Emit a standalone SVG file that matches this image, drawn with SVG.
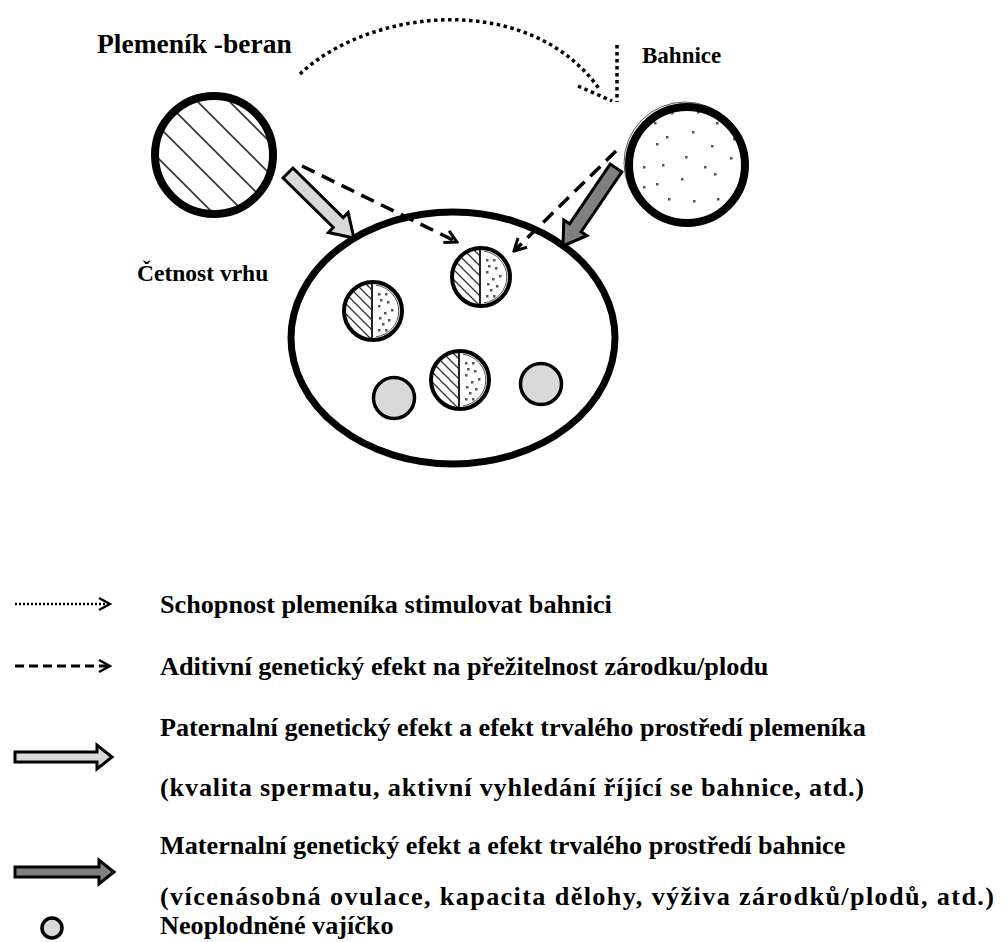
<svg xmlns="http://www.w3.org/2000/svg" xmlns:xlink="http://www.w3.org/1999/xlink" width="1007" height="942" viewBox="0 0 1007 942">
<style>
text{font-family:'Liberation Serif','Tinos','DejaVu Serif',serif;font-weight:700;fill:#000}
.leg{font-size:26.2px}
.emb{fill:none;stroke:#000;stroke-width:4}
.egg{fill:#d9d9d9;stroke:#000;stroke-width:3.5}
.blk{stroke:#000;stroke-width:3;stroke-linejoin:miter}
.light{fill:#d9d9d9}
.dark{fill:#808080}
.dash{fill:none;stroke:#000;stroke-width:3.5;stroke-dasharray:14 8}
.dot{fill:none;stroke:#000;stroke-width:3.5;stroke-dasharray:3.5 3.5}
.dp{fill:#555}
</style>
<defs>
  <pattern id="hatchBig" patternUnits="userSpaceOnUse" width="32" height="32">
    <path d="M0,0 L32,32 M-3,29 L3,35 M29,-3 L35,3" stroke="#333" stroke-width="1.6" fill="none"/>
  </pattern>
  <pattern id="hatchSmall" patternUnits="userSpaceOnUse" width="10" height="10">
    <path d="M0,0 L10,10 M-2,8 L2,12 M8,-2 L12,2" stroke="#333" stroke-width="1.3" fill="none"/>
  </pattern>
  <clipPath id="embClip"><circle cx="0" cy="0" r="28"/></clipPath>
  <marker id="chev" markerUnits="userSpaceOnUse" viewBox="0 0 16 16" markerWidth="16" markerHeight="16" refX="14" refY="8" orient="auto">
    <path d="M2,1.5 L14,8 L2,14.5" fill="none" stroke="#000" stroke-width="3" stroke-dasharray="none"/>
  </marker>
  <marker id="chevS" markerUnits="userSpaceOnUse" viewBox="0 0 16 16" markerWidth="16" markerHeight="16" refX="14" refY="8" orient="auto">
    <path d="M3,2 L14,8 L3,14" fill="none" stroke="#000" stroke-width="2.5" stroke-dasharray="none"/>
  </marker>
  <g id="embryo">
    <circle r="29" fill="#fff"/>
    <g clip-path="url(#embClip)">
      <rect x="-30" y="-30" width="29" height="60" fill="url(#hatchSmall)"/>
      <g class="dp">
        <rect x="5" y="-18" width="2.5" height="2.5"/><rect x="12" y="-18" width="2.5" height="2.5"/>
        <rect x="7" y="-12" width="2.5" height="2.5"/><rect x="14" y="-10" width="2.5" height="2.5"/>
        <rect x="5" y="-6" width="2.5" height="2.5"/><rect x="18" y="-2" width="2.5" height="2.5"/>
        <rect x="11" y="1" width="2.5" height="2.5"/><rect x="6" y="6" width="2.5" height="2.5"/>
        <rect x="15" y="8" width="2.5" height="2.5"/><rect x="9" y="12" width="2.5" height="2.5"/>
        <rect x="5" y="18" width="2.5" height="2.5"/><rect x="12" y="18" width="2.5" height="2.5"/>
      </g>
    </g>
    <path d="M3,-25.8 A26,26 0 0 1 3,25.8" fill="none" stroke="#555" stroke-width="1"/>
    <line x1="-1" y1="-29" x2="-1" y2="29" stroke="#222" stroke-width="2"/>
    <circle r="29" class="emb"/>
  </g>
</defs>

<rect width="1007" height="942" fill="#fff"/>

<g id="label-ram">
  <text x="97" y="53" font-size="27.5">Plemeník -beran</text>
</g>
<g id="label-ewe">
  <text x="642" y="63" font-size="23">Bahnice</text>
</g>

<g id="ram">
  <circle cx="214" cy="155" r="59" fill="#fff"/>
  <circle cx="214" cy="155" r="59" fill="url(#hatchBig)"/>
  <circle cx="214" cy="155" r="59" fill="none" stroke="#000" stroke-width="8"/>
</g>

<g id="ewe">
  <circle cx="685" cy="163" r="61" fill="none" stroke="#555" stroke-width="1"/>
  <circle cx="687" cy="165" r="58" fill="#fff"/>
  <g class="dp">
    <rect x="671" y="112" width="2.5" height="2.5"/><rect x="697" y="111" width="2.5" height="2.5"/>
    <rect x="654" y="122" width="2.5" height="2.5"/><rect x="716" y="122" width="2.5" height="2.5"/>
    <rect x="692" y="131" width="2.5" height="2.5"/><rect x="666" y="136" width="2.5" height="2.5"/>
    <rect x="733" y="138" width="2.5" height="2.5"/><rect x="656" y="143" width="2.5" height="2.5"/>
    <rect x="711" y="145" width="2.5" height="2.5"/><rect x="685" y="156" width="2.5" height="2.5"/>
    <rect x="730" y="157" width="2.5" height="2.5"/><rect x="643" y="166" width="2.5" height="2.5"/>
    <rect x="662" y="164" width="2.5" height="2.5"/><rect x="704" y="166" width="2.5" height="2.5"/>
    <rect x="714" y="173" width="2.5" height="2.5"/><rect x="681" y="178" width="2.5" height="2.5"/>
    <rect x="643" y="186" width="2.5" height="2.5"/><rect x="656" y="183" width="2.5" height="2.5"/>
    <rect x="668" y="198" width="2.5" height="2.5"/><rect x="693" y="200" width="2.5" height="2.5"/>
    <rect x="717" y="198" width="2.5" height="2.5"/>
  </g>
  <circle cx="687" cy="165" r="58" fill="none" stroke="#000" stroke-width="8"/>
</g>

<g id="litter">
  <ellipse cx="453" cy="338" rx="162" ry="126" fill="#fff" stroke="#000" stroke-width="7"/>
</g>
<g id="label-litter">
  <text x="137" y="281" font-size="23.5">Četnost vrhu</text>
</g>

<g id="embryo-top"><use xlink:href="#embryo" transform="translate(481,277)"/></g>
<g id="embryo-left"><use xlink:href="#embryo" transform="translate(373,311)"/></g>
<g id="embryo-mid"><use xlink:href="#embryo" transform="translate(460,380)"/></g>
<g id="egg-left"><circle class="egg" cx="394" cy="398" r="20.5"/></g>
<g id="egg-right"><circle class="egg" cx="541" cy="384" r="20.5"/></g>

<g id="connectors">
  <path class="dot" d="M300,74 C370,8 530,-10 600,90"/>
  <path class="dot" d="M578,86 L612,101"/>
  <path class="dot" d="M617,45 L617,102"/>
  <path class="dash" d="M302,166 L457,242" marker-end="url(#chev)"/>
  <path class="dash" d="M616,151 L514,251" marker-end="url(#chev)"/>
  <polygon class="blk light" transform="translate(288,173) rotate(44.6)" points="0,-7 70.6,-7 70.6,-14 92.6,0 70.6,14 70.6,7 0,7"/>
  <polygon class="blk dark" transform="translate(616,168) rotate(124.2)" points="0,-7 72.3,-7 72.3,-14 94.3,0 72.3,14 72.3,7 0,7"/>
</g>

<g id="legend">
  <g id="leg-dotted">
    <path d="M15,604 L110,604" fill="none" stroke="#000" stroke-width="2.5" stroke-dasharray="2 2" marker-end="url(#chevS)"/>
    <text class="leg" x="160" y="613">Schopnost plemeníka stimulovat bahnici</text>
  </g>
  <g id="leg-dashed">
    <path d="M15,666 L110,666" fill="none" stroke="#000" stroke-width="3" stroke-dasharray="9 5" marker-end="url(#chevS)"/>
    <text class="leg" x="160" y="675">Aditivní genetický efekt na přežitelnost zárodku/plodu</text>
  </g>
  <g id="leg-paternal">
    <polygon class="blk light" points="15,752 97,752 97,745 112,757 97,769 97,762 15,762"/>
    <text class="leg" x="160" y="736">Paternalní genetický efekt a efekt trvalého prostředí plemeníka</text>
    <text class="leg" x="160" y="796" textLength="704" lengthAdjust="spacing">(kvalita spermatu, aktivní vyhledání říjící se bahnice, atd.)</text>
  </g>
  <g id="leg-maternal">
    <polygon class="blk dark" points="15,867 99,867 99,860 114,872 99,884 99,877 15,877"/>
    <text class="leg" x="160" y="854">Maternalní genetický efekt a efekt trvalého prostředí bahnice</text>
    <text class="leg" x="160" y="905" textLength="834" lengthAdjust="spacing">(vícenásobná ovulace, kapacita dělohy, výživa zárodků/plodů, atd.)</text>
  </g>
  <g id="leg-egg">
    <circle class="egg" cx="52" cy="928" r="10" stroke-width="3"/>
    <text class="leg" x="160" y="934">Neoplodněné vajíčko</text>
  </g>
</g>
</svg>
